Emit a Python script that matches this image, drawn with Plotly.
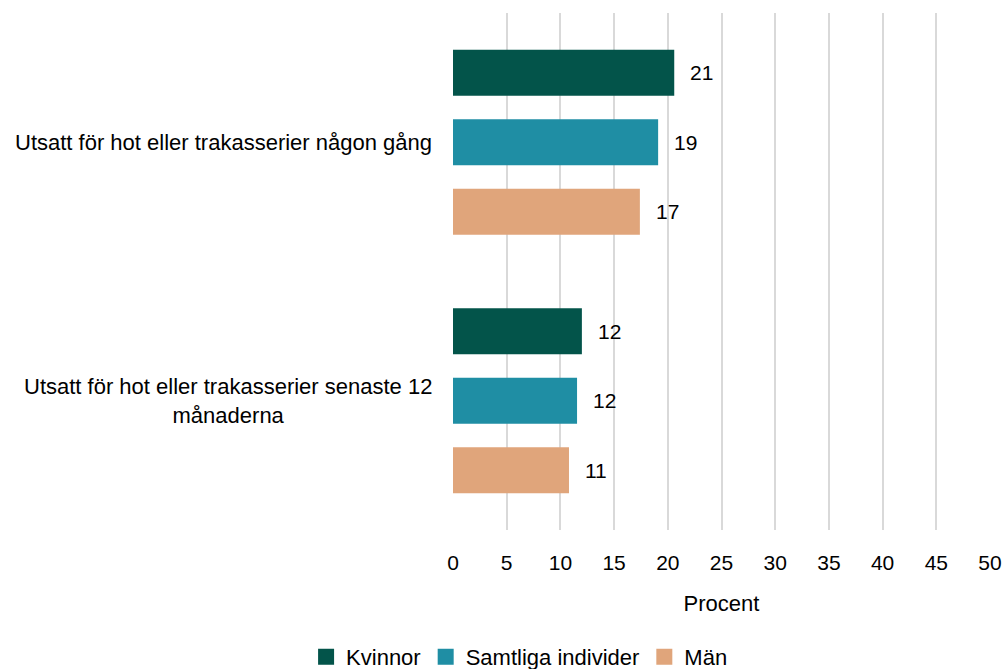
import plotly.graph_objects as go

categories = ["Utsatt för hot eller trakasserier någon gång",
              "Utsatt för hot eller trakasserier senaste 12<br>månaderna"]
series_names = ["Kvinnor", "Samtliga individer", "Män"]
kvinnor = [20.6, 12.0]
samtliga = [19.1, 11.55]
man = [17.4, 10.8]
labels_kvinnor = ["21", "12"]
labels_samtliga = ["19", "12"]
labels_man = ["17", "11"]
colors = ["#03544A", "#1F8EA4", "#E0A57B"]
x_ticks = [0, 5, 10, 15, 20, 25, 30, 35, 40, 45, 50]

FONT = "Liberation Sans"
fig = go.Figure()
series = [kvinnor, samtliga, man]
labels = [labels_kvinnor, labels_samtliga, labels_man]
for name, vals, col in zip(series_names, series, colors):
    fig.add_trace(go.Bar(
        y=categories, x=vals, name=name, orientation="h",
        marker=dict(color=col, line=dict(width=0)),
        cliponaxis=False, showlegend=False,
    ))
# legend entries with larger square swatches
for name, col in zip(series_names, colors):
    fig.add_trace(go.Scatter(
        x=[None], y=[None], mode="markers", name=name,
        marker=dict(symbol="square", size=17, color=col),
        hoverinfo="skip",
    ))

annotations = []
offsets = [-1, 0, 1]
for i, (vals, labs) in enumerate(zip(series, labels)):
    for j, (v, t) in enumerate(zip(vals, labs)):
        annotations.append(dict(
            x=v, y=categories[j], xref="x", yref="y", text=t,
            showarrow=False, xanchor="left", xshift=14,
            yshift=-offsets[i] * 69.5,
            font=dict(family=FONT, size=21, color="#000000"),
        ))
for j, c in enumerate(categories):
    annotations.append(dict(
        x=0, y=c, xref="paper", yref="y", text=c, showarrow=False,
        xanchor="right", xshift=-19, align="center",
        font=dict(family=FONT, size=22, color="#000000"),
    ))

fig.update_layout(
    width=1005, height=669,
    margin=dict(l=453, r=15, t=13, b=139),
    paper_bgcolor="white", plot_bgcolor="white",
    barmode="group", bargap=0.193, bargroupgap=0.338,
    font=dict(family=FONT, size=21, color="#000000"),
    annotations=annotations,
    showlegend=True,
    legend=dict(orientation="h", xref="container", yref="container",
                x=0.517, xanchor="center", y=0.018, yanchor="middle",
                font=dict(family=FONT, size=22, color="#000000"),
                itemwidth=30, itemsizing="trace", tracegroupgap=0),
    xaxis=dict(range=[0, 50], tickvals=x_ticks, showgrid=True,
               gridcolor="#D9D9D9", gridwidth=2, zeroline=False,
               showline=False, ticks="", tickfont=dict(size=21),
               ticklabelstandoff=18, automargin=False,
               title=dict(text="Procent", font=dict(size=22), standoff=22)),
    yaxis=dict(autorange="reversed", showticklabels=False, showgrid=False,
               zeroline=False, showline=False, ticks="", automargin=False),
)

fig.write_html("out.html", config={"displayModeBar": False},
               post_script="document.body.style.margin='0';document.body.style.overflow='hidden';")
